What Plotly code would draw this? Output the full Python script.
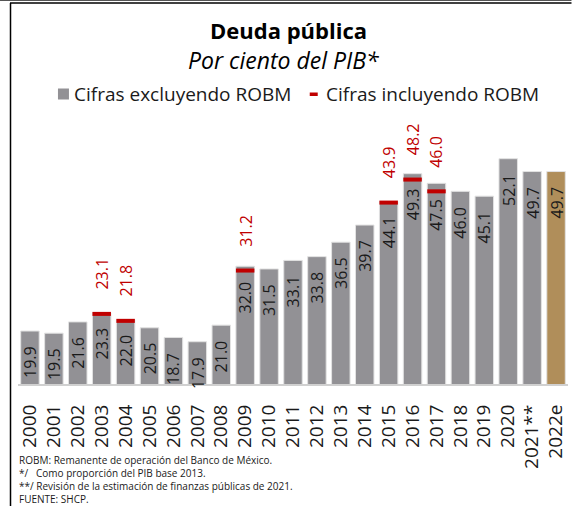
import plotly.graph_objects as go

# Public debt, percent of GDP
years = ["2000", "2001", "2002", "2003", "2004", "2005", "2006", "2007", "2008",
         "2009", "2010", "2011", "2012", "2013", "2014", "2015", "2016", "2017",
         "2018", "2019", "2020", "2021**", "2022e"]
excl_robm = [19.9, 19.5, 21.6, 23.3, 22.0, 20.5, 18.7, 17.9, 21.0, 32.0, 31.5,
             33.1, 33.8, 36.5, 39.7, 44.1, 49.3, 47.5, 46.0, 45.1, 52.1, 49.7, 49.7]
robm_years = ["2003", "2004", "2009", "2015", "2016", "2017"]
incl_robm = [23.1, 21.8, 31.2, 43.9, 48.2, 46.0]

footnotes = [
    "ROBM: Remanente de operación del Banco de México.",
    "*/   Como proporción del PIB base 2013.",
    "**/ Revisión de la estimación de finanzas públicas de 2021.",
    "FUENTE: SHCP.",
]

W, H = 572, 506
L, R, T, B = 18, 3.5, 110, 122
PW, PH = W - L - R, H - T - B
FONT = "Open Sans"
GRAY = "#929195"
GOLD = "#b08e5a"
RED = "#c00000"
INK = "#1a1a1a"


def px(x):
    return (x - L) / PW


def py(y):
    return (H - B - y) / PH


colors = [GRAY] * (len(years) - 1) + [GOLD]

fig = go.Figure()
fig.add_trace(go.Bar(
    x=years, y=excl_robm, base=0, marker=dict(color=colors, line=dict(color="#e2e2e2", width=1)),
    showlegend=False, hoverinfo="x+y",
))
# ROBM-inclusive figures drawn as a thin red band at their value
seg = 0.75
fig.add_trace(go.Bar(
    x=robm_years, y=[seg] * len(incl_robm), base=[v - seg / 2 for v in incl_robm],
    marker=dict(color=RED, line=dict(width=0)), showlegend=False,
    customdata=incl_robm, hovertemplate="%{x}: %{customdata}<extra></extra>",
))

ann = []
for i, v in enumerate(excl_robm):
    ann.append(dict(x=i, y=v, xref="x", yref="y", text=f"{v:.1f}", textangle=-90,
                    showarrow=False, yanchor="middle", xanchor="center", yshift=-31,
                    font=dict(family=FONT, size=16, color=INK)))
for yr, v in zip(robm_years, incl_robm):
    ann.append(dict(x=years.index(yr), y=v, xref="x", yref="y", text=f"{v:.1f}", textangle=-90,
                    showarrow=False, yanchor="middle", xanchor="center", yshift=40,
                    font=dict(family=FONT, size=16, color=RED)))

# Titles
ann.append(dict(x=px(289), y=py(30), xref="paper", yref="paper", text="<b>Deuda pública</b>",
                showarrow=False, xanchor="center", yanchor="middle",
                font=dict(family=FONT, size=22, color="#000000")))
ann.append(dict(x=px(284), y=py(60), xref="paper", yref="paper", text="<i>Por ciento del PIB*</i>",
                showarrow=False, xanchor="center", yanchor="middle",
                font=dict(family=FONT, size=23, color="#000000")))
# Legend
LEG_Y = 94
ann.append(dict(x=px(72), y=py(LEG_Y), xref="paper", yref="paper", text="Cifras excluyendo ROBM",
                showarrow=False, xanchor="left", yanchor="middle",
                font=dict(family=FONT, size=19, color=INK)))
ann.append(dict(x=px(324), y=py(LEG_Y), xref="paper", yref="paper", text="Cifras incluyendo ROBM",
                showarrow=False, xanchor="left", yanchor="middle",
                font=dict(family=FONT, size=19, color=INK)))
# Footnotes as one left-aligned block
ann.append(dict(x=px(17), y=py(451), xref="paper", yref="paper", text="<br>".join(footnotes),
                showarrow=False, xanchor="left", yanchor="top", align="left",
                font=dict(family=FONT, size=10, color=INK)))

shapes = [
    # legend keys
    dict(type="rect", xref="paper", yref="paper", x0=px(58), x1=px(69),
         y0=py(LEG_Y + 5.5), y1=py(LEG_Y - 5.5), fillcolor=GRAY, line=dict(width=0)),
    dict(type="rect", xref="paper", yref="paper", x0=px(310), x1=px(318),
         y0=py(LEG_Y + 2), y1=py(LEG_Y - 1.5), fillcolor=RED, line=dict(width=0)),
    # frame
    dict(type="line", xref="paper", yref="paper", x0=px(0), x1=px(W), y0=py(0.5), y1=py(0.5),
         line=dict(color="#555555", width=1)),
    dict(type="line", xref="paper", yref="paper", x0=px(10), x1=px(W), y0=py(3), y1=py(3),
         line=dict(color="#000000", width=1.5)),
    dict(type="line", xref="paper", yref="paper", x0=px(10.5), x1=px(10.5), y0=py(3), y1=py(H),
         line=dict(color="#000000", width=1.5)),
]

fig.update_layout(
    width=W, height=H, margin=dict(l=L, r=R, t=T, b=B),
    paper_bgcolor="white", plot_bgcolor="white",
    barmode="overlay", bargap=0.227,
    annotations=ann, shapes=shapes, showlegend=False,
    xaxis=dict(type="category", range=[-0.5, len(years) - 0.5], tickangle=-90,
               tickfont=dict(family=FONT, size=19, color=INK), showline=True,
               linecolor="#d0d0d0", linewidth=2, showgrid=False, ticks="",
               ticklabelstandoff=11, fixedrange=True),
    yaxis=dict(range=[10, 61.2], visible=False, showgrid=False, fixedrange=True),
    font=dict(family=FONT),
)

fig.write_html("out.html")
